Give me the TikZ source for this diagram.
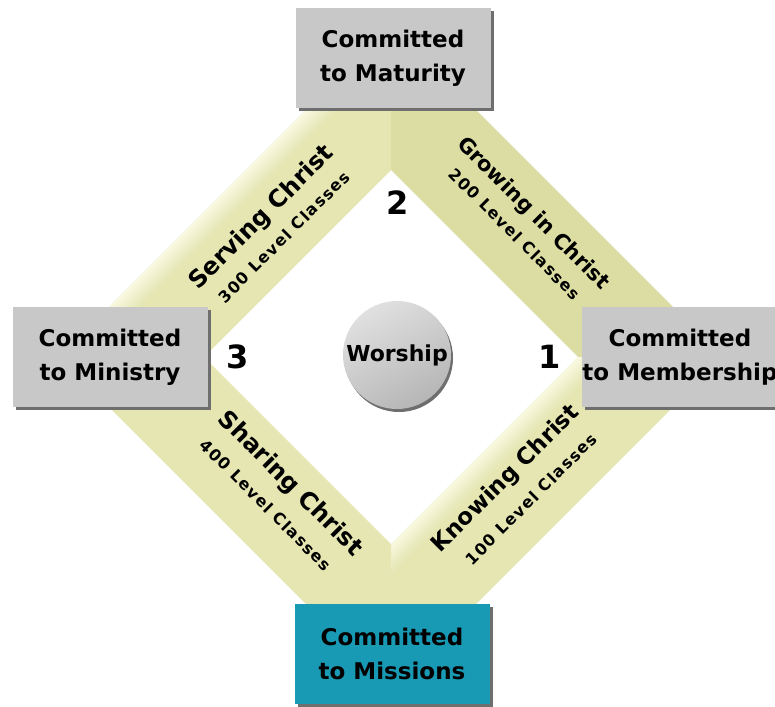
\documentclass[tikz,border=0pt]{standalone}
\usepackage{fontspec}
\setmainfont{DejaVu Sans}
\newfontfamily\subfont[LetterSpace=8]{DejaVu Sans}
\usetikzlibrary{shadows}
\definecolor{bandbase}{RGB}{229,230,178}
\definecolor{bandlight}{RGB}{250,250,228}
\definecolor{banddark}{RGB}{219,221,163}
\definecolor{boxgray}{RGB}{200,200,200}
\definecolor{boxshadow}{RGB}{110,110,110}
\definecolor{missionteal}{RGB}{24,154,180}
\begin{document}
\begin{tikzpicture}[x=1pt,y=-1pt,
  corner/.style={fill=boxgray, minimum width=195pt, minimum height=100pt,
    align=center, inner sep=0pt, font=\bfseries\fontsize{23}{34}\selectfont,
    general shadow={fill=boxshadow, shadow xshift=3pt, shadow yshift=-3pt}},
  bandtitle/.style={font=\bfseries\fontsize{24}{24}\selectfont, inner sep=0pt},
  bandsub/.style={font=\subfont\bfseries\fontsize{16}{16}\selectfont, inner sep=0pt},
  num/.style={font=\bfseries\fontsize{32}{32}\selectfont, inner sep=0pt},
  glow/.style={line width=2.6pt}]
\useasboundingbox (0,0) rectangle (775,706);
% diamond vertices
\coordinate (ot) at (391,25);
\coordinate (or) at (723,357);
\coordinate (ob) at (391,689);
\coordinate (ol) at (59,357);
\coordinate (it) at (391,170);
\coordinate (ir) at (578,357);
\coordinate (ib) at (391,544);
\coordinate (il) at (204,357);
% NW band with highlight along its outer edge
\begin{scope}
  \clip (ol) -- (ot) -- (it) -- (il) -- cycle;
  \fill[bandbase] (ol) -- (ot) -- (it) -- (il) -- cycle;
  \foreach \k in {0,...,9} {
    \pgfmathtruncatemacro{\p}{100-\k*10}
    \draw[glow, draw=bandlight!\p!bandbase, shift={(\k*1.6,\k*1.6)}]
      (9,407) -- (441,-25);
  }
\end{scope}
% NE band
\fill[banddark] (ot) -- (or) -- (ir) -- (it) -- cycle;
% SE band with highlight along its inner edge
\begin{scope}
  \clip (or) -- (ob) -- (ib) -- (ir) -- cycle;
  \fill[bandbase] (or) -- (ob) -- (ib) -- (ir) -- cycle;
  \foreach \k in {0,...,9} {
    \pgfmathtruncatemacro{\p}{100-\k*10}
    \draw[glow, draw=bandlight!\p!bandbase, shift={(\k*1.6,\k*1.6)}]
      (628,307) -- (341,594);
  }
\end{scope}
% SW band
\fill[bandbase] (ob) -- (ol) -- (il) -- (ib) -- cycle;
% corner boxes
\node[corner] (maturity) at (393,58) {Committed\\to Maturity};
\node[corner] (ministry) at (110,357) {Committed\\to Ministry};
\node[corner] (membership) at (680,357) {Committed\\to Membership};
\node[corner, fill=missionteal] (missions) at (392,654) {Committed\\to Missions};
% center circle
\node[circle, minimum size=108pt, inner sep=0pt,
  top color={rgb,255:red,224;green,224;blue,224}, bottom color={rgb,255:red,182;green,182;blue,182},
  shading angle=30,
  general shadow={fill=boxshadow, shadow xshift=2pt, shadow yshift=-3pt},
  font=\bfseries\fontsize{22}{22}\selectfont] (worship) at (397,355) {Worship};
% numbers
\node[num] (n1) at (550,357) {1};
\node[num] (n2) at (398,203) {2};
\node[num] (n3) at (238,357) {3};
% band labels
\node[bandtitle, rotate=45] (serving) at (262,218) {Serving Christ};
\node[bandsub, rotate=45] (s300) at (284,237) {300 Level Classes};
\node[bandtitle, rotate=-45, font=\bfseries\fontsize{21}{21}\selectfont] (growing) at (533,214) {Growing in Christ};
\node[bandsub, rotate=-45] (s200) at (515,234) {200 Level Classes};
\node[bandtitle, rotate=-45] (sharing) at (290,484) {Sharing Christ};
\node[bandsub, rotate=-45] (s400) at (266,505) {400 Level Classes};
\node[bandtitle, rotate=45, font=\bfseries\fontsize{23}{23}\selectfont] (knowing) at (506,479) {Knowing Christ};
\node[bandsub, rotate=45] (s100) at (531,499) {100 Level Classes};
\end{tikzpicture}
\end{document}
